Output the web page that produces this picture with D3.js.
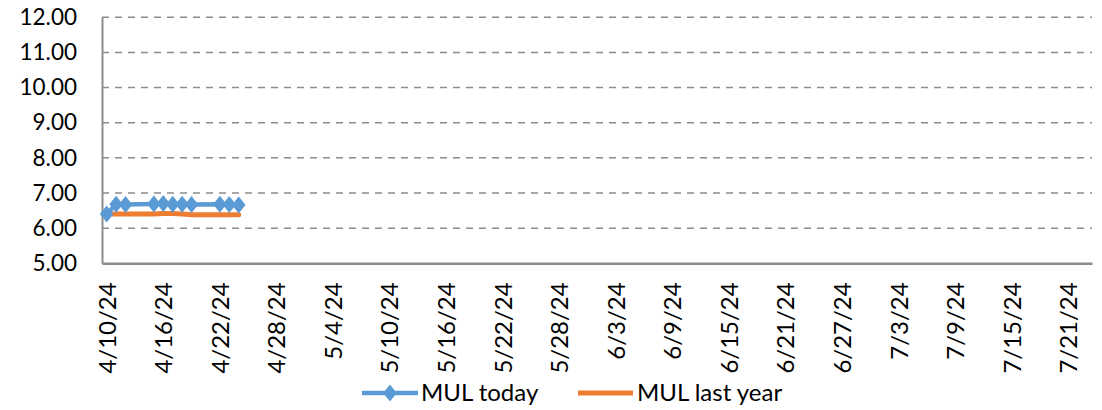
<!DOCTYPE html>
<html><head><meta charset="utf-8">
<script src="https://cdn.jsdelivr.net/npm/d3@7"></script>
<style>html,body{margin:0;padding:0;background:#fff;}svg{display:block;}</style>
</head><body>
<svg id="chart" width="1102" height="410"></svg>
<script>
const todayDates = ["4/10/24","4/11/24","4/12/24","4/15/24","4/16/24","4/17/24","4/18/24","4/19/24","4/22/24","4/23/24","4/24/24"];
const todayValues = [6.40, 6.68, 6.67, 6.69, 6.70, 6.68, 6.68, 6.67, 6.68, 6.67, 6.66];
const lastYearDates = ["4/10/24","4/11/24","4/12/24","4/15/24","4/16/24","4/17/24","4/18/24","4/19/24","4/22/24","4/23/24","4/24/24"];
const lastYearValues = [6.40, 6.40, 6.40, 6.40, 6.42, 6.42, 6.40, 6.38, 6.38, 6.38, 6.38];
const xTickLabels = ["4/10/24","4/16/24","4/22/24","4/28/24","5/4/24","5/10/24","5/16/24","5/22/24","5/28/24","6/3/24","6/9/24","6/15/24","6/21/24","6/27/24","7/3/24","7/9/24","7/15/24","7/21/24"];
const yTickValues = [5,6,7,8,9,10,11,12];
const axisStart = "4/10/24", axisEnd = "7/23/24";
const seriesNames = ["MUL today","MUL last year"];

(function(){
const parse = d3.timeParse("%m/%d/%y");
const font = "Lato, 'Liberation Sans', sans-serif";
const pLeft = 102, pRight = 1092, pTop = 17.3, pBottom = 263.3;
const halfDay = 12*3600*1000;
const x = d3.scaleTime()
  .domain([new Date(+parse(axisStart) - halfDay), new Date(+parse(axisEnd) + halfDay)])
  .range([pLeft, pRight]);
const y = d3.scaleLinear().domain([5,12]).range([pBottom, pTop]);

const svg = d3.select("#chart");
const blue = "#5B9BD5", orange = "#ED7D31", grid = "#8c8c8c";

svg.append("g").selectAll("line").data(yTickValues.filter(v => v > 5)).join("line")
  .attr("x1", pLeft).attr("x2", pRight).attr("y1", d => y(d)).attr("y2", d => y(d))
  .attr("stroke", grid).attr("stroke-width", 1.5).attr("stroke-dasharray", "7,6");

const yAxis = svg.append("g").attr("transform", `translate(${pLeft},0)`)
  .call(d3.axisLeft(y).tickValues(yTickValues).tickFormat(d3.format(".2f")).tickSize(0).tickPadding(25));
yAxis.select(".domain").attr("stroke", grid).attr("stroke-width", 2);
yAxis.selectAll("text").attr("font-family", font).attr("font-size", 22.5).attr("fill", "#000");

const xAxis = svg.append("g").attr("transform", `translate(0,${pBottom})`)
  .call(d3.axisBottom(x).tickValues(xTickLabels.map(parse)).tickFormat((d,i) => xTickLabels[i]).tickSize(0));
xAxis.select(".domain").attr("stroke", grid).attr("stroke-width", 2.5);
xAxis.selectAll("text")
  .attr("font-family", font).attr("font-size", 24).attr("fill", "#000")
  .attr("transform", "rotate(-90)")
  .attr("text-anchor", "end")
  .attr("x", -19).attr("y", 0).attr("dy", "0.35em");

const today = todayDates.map((d,i) => ({date: parse(d), value: todayValues[i]}));
const lastYear = lastYearDates.map((d,i) => ({date: parse(d), value: lastYearValues[i]}));
const line = d3.line().x(d => x(d.date)).y(d => y(d.value));

svg.append("path").datum(lastYear).attr("d", line)
  .attr("fill", "none").attr("stroke", orange).attr("stroke-width", 5).attr("stroke-linejoin", "round").attr("stroke-linecap", "round");
svg.append("path").datum(today).attr("d", line)
  .attr("fill", "none").attr("stroke", blue).attr("stroke-width", 4.5).attr("stroke-linejoin", "round").attr("stroke-linecap", "round");
const diamond = d3.symbol().type(d3.symbolDiamond2).size(84);
svg.append("g").selectAll("path").data(today).join("path")
  .attr("d", diamond)
  .attr("transform", d => `translate(${x(d.date)},${y(d.value)}) scale(1,1.25)`)
  .attr("fill", blue).attr("stroke", blue).attr("stroke-width", 1.5);

const ly = 393;
const lg = svg.append("g");
lg.append("line").attr("x1", 362).attr("x2", 418).attr("y1", ly).attr("y2", ly).attr("stroke", blue).attr("stroke-width", 4.5);
lg.append("path").attr("d", diamond).attr("transform", `translate(390,${ly}) scale(1,1.25)`).attr("fill", blue).attr("stroke", blue).attr("stroke-width", 1.5);
lg.append("text").attr("x", 421).attr("y", ly).attr("dy", "0.35em").text(seriesNames[0])
  .attr("font-family", font).attr("font-size", 24).attr("fill", "#000");
lg.append("line").attr("x1", 578).attr("x2", 633).attr("y1", ly).attr("y2", ly).attr("stroke", orange).attr("stroke-width", 5);
lg.append("text").attr("x", 637).attr("y", ly).attr("dy", "0.35em").text(seriesNames[1])
  .attr("font-family", font).attr("font-size", 24).attr("fill", "#000");
})();
</script>
</body></html>
